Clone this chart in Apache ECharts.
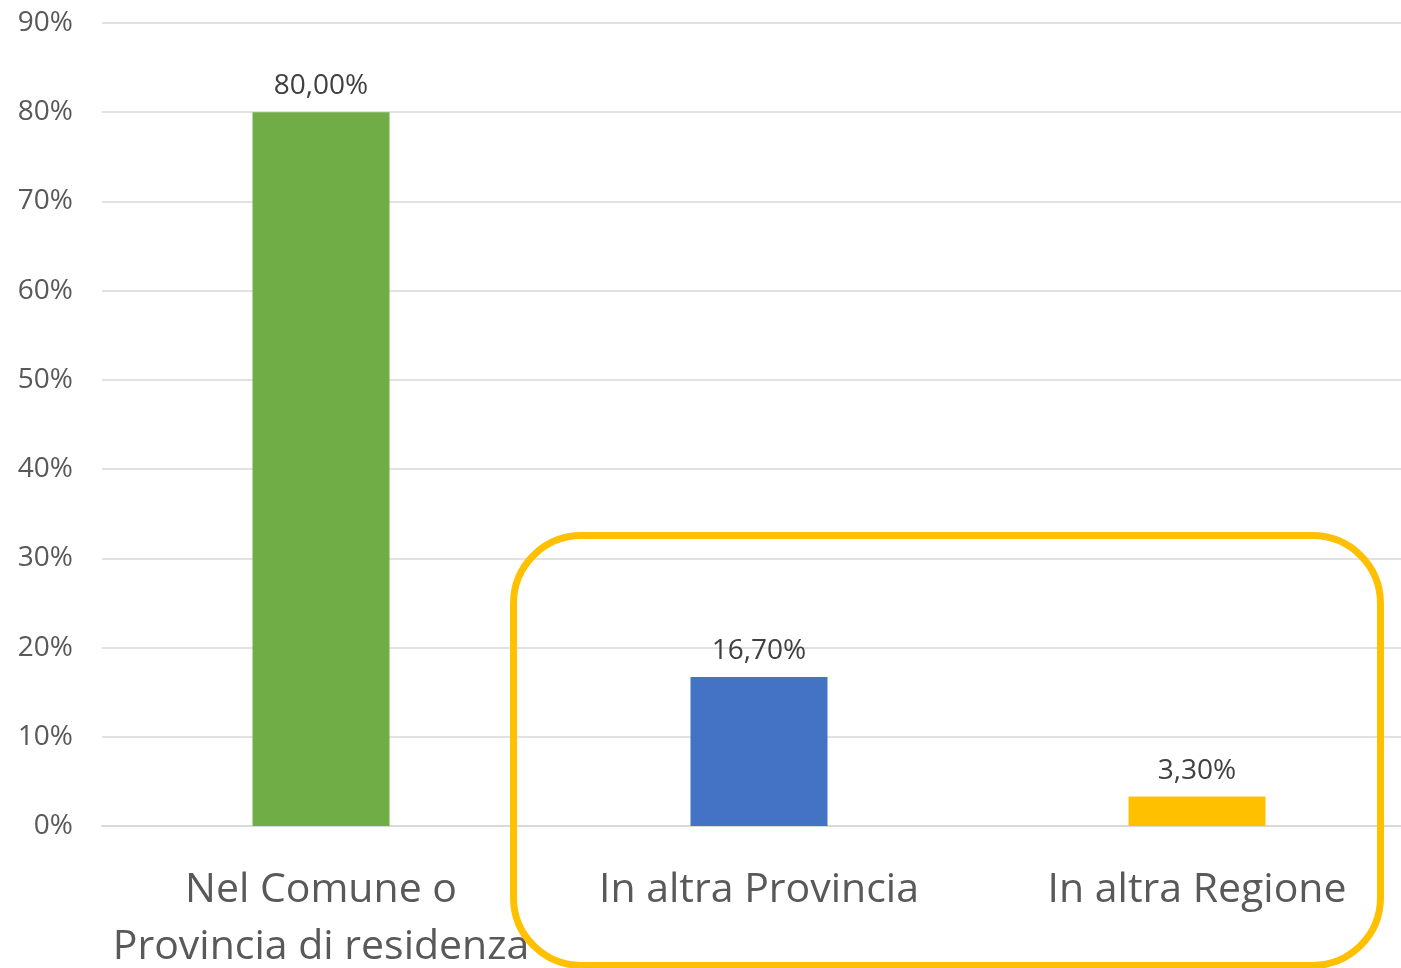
<!DOCTYPE html>
<html>
<head>
<meta charset="utf-8">
<script src="https://cdn.jsdelivr.net/npm/echarts@6/dist/echarts.min.js"></script>
<style>
  html, body { margin: 0; padding: 0; background: #ffffff; }
  #chart { width: 1401px; height: 968px; }
</style>
</head>
<body>
<div id="chart"></div>
<script>
// Where residents work: share by location
const categories = ['Nel Comune o\nProvincia di residenza', 'In altra Provincia', 'In altra Regione'];
const shares = [80.0, 16.7, 3.3];
const barColors = ['#70AD47', '#4472C4', '#FFC000'];
const yTicks = { min: 0, max: 90, interval: 10 };

const FONT = '"Open Sans", "Noto Sans", sans-serif';

const chart = echarts.init(document.getElementById('chart'), null, { renderer: 'canvas' });

chart.setOption({
  animation: false,
  backgroundColor: '#ffffff',
  grid: { left: 102, right: -15, top: 23, bottom: 142, containLabel: false, outerBoundsMode: 'none' },
  xAxis: {
    type: 'category',
    data: categories,
    axisLine: { show: true, lineStyle: { color: '#d9d9d9', width: 2 } },
    axisTick: { show: false },
    axisLabel: {
      color: '#595959',
      fontFamily: FONT,
      fontSize: 41,
      lineHeight: 57,
      margin: 36,
      interval: 0
    }
  },
  yAxis: {
    type: 'value',
    min: yTicks.min,
    max: yTicks.max,
    interval: yTicks.interval,
    axisLine: { show: false },
    axisTick: { show: false },
    splitLine: { lineStyle: { color: '#d9d9d9', width: 1.5 } },
    axisLabel: {
      color: '#595959',
      fontFamily: FONT,
      fontSize: 28,
      margin: 29,
      formatter: '{value}%'
    }
  },
  series: [{
    type: 'bar',
    data: shares.map((v, i) => ({ value: v, itemStyle: { color: barColors[i] } })),
    barWidth: 137,
    label: {
      show: true,
      position: 'top',
      distance: 12,
      color: '#404040',
      fontFamily: FONT,
      fontSize: 28,
      formatter: p => p.value.toFixed(2).replace('.', ',') + '%'
    }
  }],
  // Highlight frame around the two minority categories
  graphic: [{
    type: 'rect',
    shape: { x: 513.5, y: 535.5, width: 867, height: 430, r: 68 },
    style: { fill: 'none', stroke: '#FFC000', lineWidth: 7 },
    z: 100
  }]
});
</script>
</body>
</html>
